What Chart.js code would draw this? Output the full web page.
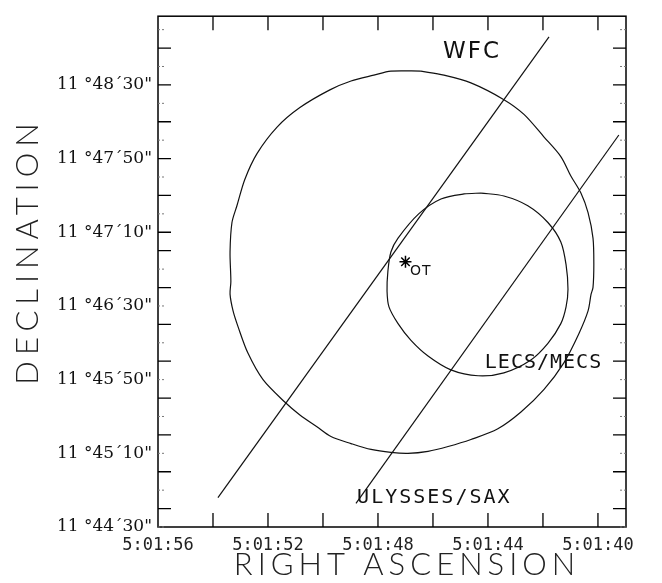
<!DOCTYPE html>
<html>
<head>
<meta charset="utf-8">
<script src="https://cdn.jsdelivr.net/npm/chart.js@4.4.0/dist/chart.umd.min.js"></script>
<style>
  html, body { margin: 0; padding: 0; background: #fff; }
</style>
</head>
<body>
<canvas id="myChart" width="662" height="583"></canvas>
<script>
// RA in seconds of 5h01m, Dec in arcsec above 11°44'00"
const wfcCircle = [
  [46.44, 277.5], [47.53, 277.5], [48.15, 275.3], [48.98, 272.1], [49.75, 267.3],
  [50.84, 257.7], [51.67, 247.1], [52.4, 232.7], [52.84, 218.8], [53.13, 204.4],
  [53.31, 195.3], [53.38, 179.3], [53.35, 163.3], [53.38, 156.4], [53.27, 147.3],
  [53.09, 138.8], [52.73, 124.4], [52.18, 110], [51.38, 97.7], [50.84, 90.8],
  [50.22, 84.4], [49.71, 79.1], [48.98, 75.3], [48.25, 72.1], [47.53, 70.5],
  [46.91, 70], [46.18, 71.1], [45.45, 73.7], [44.62, 77.5], [43.64, 83.3],
  [42.8, 92.4], [41.96, 104.7], [41.24, 119.1], [40.69, 135.1], [40.36, 147.3],
  [40.25, 156.4], [40.18, 160.1], [40.15, 172.4], [40.18, 186.8], [40.36, 200.7],
  [40.62, 211.3], [40.98, 220.4], [41.35, 231.1], [41.96, 241.7], [42.69, 254],
  [43.42, 262], [44.62, 271.1], [45.6, 275.3]
];
const lecsCircle = [
  [44.25, 211.3], [44.87, 210.8], [45.71, 208.1], [46.51, 200.1], [47.27, 186.8],
  [47.53, 179.3], [47.64, 168.7], [47.67, 158], [47.6, 149.5], [47.27, 140.4],
  [46.8, 131.3], [46.18, 122.8], [45.35, 115.3], [44.36, 112.1], [43.42, 113.7],
  [42.44, 120.7], [41.82, 129.7], [41.35, 140.4], [41.16, 149.5], [41.09, 159.1],
  [41.16, 172.4], [41.35, 184.7], [41.82, 195.3], [42.55, 204.4], [43.42, 209.7]
];
const wfcLine = [[53.82, 46], [41.78, 296.1]];
const ulyssesLine = [[48.8, 42.8], [39.24, 242.8]];
const otPoint = [[47.0, 174]];

const raLabels = [56, 52, 48, 44, 40];
const raMarks = [54, 52, 50, 48, 46, 44, 42, 40];
const decLabels = [30, 70, 110, 150, 190, 230, 270];
const decMajor = [40, 60, 80, 100, 120, 140, 160, 180, 190, 210, 230, 250, 270, 290];
const decMinor = [30, 50, 70, 90, 110, 130, 150, 170, 200, 220, 240, 260, 280, 300];

const notes = [
  ["WFC", 44.58, 288.1],
  ["LECS/MECS", 41.98, 119.3],
  ["ULYSSES/SAX", 45.95, 45.7],
  ["OT", 46.44, 168.7]
];

const pts = a => a.map(p => ({ x: p[0], y: p[1] }));
const closed = a => pts([...a, a[0]]);
const pad = n => String(n).padStart(2, "0");

function raText(v) {
  return "5:01:" + pad(v);
}
function decText(v) {
  return "11 °" + (44 + Math.floor(v / 60)) + "´" + pad(v % 60) + '"';
}

const lineStyle = {
  showLine: true,
  borderColor: "#111",
  borderWidth: 1.2,
  pointRadius: 0,
  fill: false
};

const extras = {
  id: "extras",
  afterDatasetsDraw(chart) {
    const { ctx, chartArea: a, scales: { x, y } } = chart;
    ctx.save();
    ctx.strokeStyle = "#000";
    ctx.lineWidth = 1.5;
    ctx.strokeRect(a.left, a.top, a.right - a.left, a.bottom - a.top);

    ctx.beginPath();
    raMarks.forEach(v => {
      const px = x.getPixelForValue(v);
      ctx.moveTo(px, a.bottom); ctx.lineTo(px, a.bottom - 14);
      ctx.moveTo(px, a.top); ctx.lineTo(px, a.top + 14);
    });
    decMajor.forEach(v => {
      const py = y.getPixelForValue(v);
      ctx.moveTo(a.left, py); ctx.lineTo(a.left + 13, py);
      ctx.moveTo(a.right, py); ctx.lineTo(a.right - 13, py);
    });
    ctx.lineWidth = 1.3;
    ctx.stroke();

    ctx.beginPath();
    ctx.strokeStyle = "#777";
    ctx.lineWidth = 1;
    ctx.setLineDash([2, 2]);
    decMinor.forEach(v => {
      const py = y.getPixelForValue(v);
      ctx.moveTo(a.left, py); ctx.lineTo(a.left + 8, py);
      ctx.moveTo(a.right, py); ctx.lineTo(a.right - 8, py);
    });
    ctx.stroke();
    ctx.setLineDash([]);

    // labels inside the plot
    ctx.fillStyle = "#111";
    ctx.textAlign = "center";
    ctx.textBaseline = "middle";
    notes.forEach(([t, rx, dy]) => {
      const px = x.getPixelForValue(rx);
      const py = y.getPixelForValue(dy);
      if (t === "WFC") {
        ctx.font = "23px 'DejaVu Sans'";
        ctx.letterSpacing = "2px";
      } else if (t === "OT") {
        ctx.font = "14px 'DejaVu Sans'";
        ctx.letterSpacing = "1px";
      } else {
        ctx.font = "20px 'DejaVu Sans Mono'";
        ctx.letterSpacing = t === "LECS/MECS" ? "1px" : "2px";
      }
      ctx.fillText(t, px, py);
    });

    // axis titles
    ctx.fillStyle = "#222";
    ctx.font = "300 31px Lato";
    ctx.letterSpacing = "5px";
    ctx.fillText("RIGHT ASCENSION", 407, 565);
    ctx.translate(28, 254);
    ctx.rotate(-Math.PI / 2);
    ctx.letterSpacing = "6px";
    ctx.fillText("DECLINATION", 3, 0);
    ctx.restore();
  }
};

const config = {
  type: "scatter",
  data: {
    datasets: [
      { ...lineStyle, data: closed(wfcCircle), tension: 0.3 },
      { ...lineStyle, data: closed(lecsCircle), tension: 0.3 },
      { ...lineStyle, data: pts(wfcLine) },
      { ...lineStyle, data: pts(ulyssesLine) },
      {
        data: pts(otPoint),
        pointStyle: "star",
        pointRadius: 6,
        borderColor: "#000",
        borderWidth: 1.5,
        showLine: false
      }
    ]
  },
  options: {
    responsive: false,
    animation: false,
    devicePixelRatio: 1,
    layout: { padding: { top: 7, right: 36, left: 0, bottom: 0 } },
    plugins: { legend: { display: false }, tooltip: { enabled: false } },
    scales: {
      x: {
        type: "linear",
        reverse: true,
        min: 38.98,
        max: 56,
        afterBuildTicks: s => { s.ticks = raLabels.map(v => ({ value: v })); },
        afterFit: s => { s.height = 56; },
        grid: { display: false, drawTicks: false },
        border: { display: false },
        ticks: {
          padding: 8,
          color: "#222",
          autoSkip: false,
          maxRotation: 0,
          font: { family: "'DejaVu Sans Mono'", size: 17 },
          callback: v => raText(v)
        }
      },
      y: {
        type: "linear",
        min: 30,
        max: 307.3,
        afterBuildTicks: s => { s.ticks = decLabels.map(v => ({ value: v })); },
        afterFit: s => { s.width = 158; },
        grid: { display: false, drawTicks: false },
        border: { display: false },
        ticks: {
          padding: 6,
          color: "#111",
          autoSkip: false,
          font: { family: "'DejaVu Serif'", size: 17 },
          callback: v => decText(v)
        }
      }
    }
  },
  plugins: [extras]
};

const myChart = new Chart(document.getElementById("myChart"), config);
</script>
</body>
</html>
